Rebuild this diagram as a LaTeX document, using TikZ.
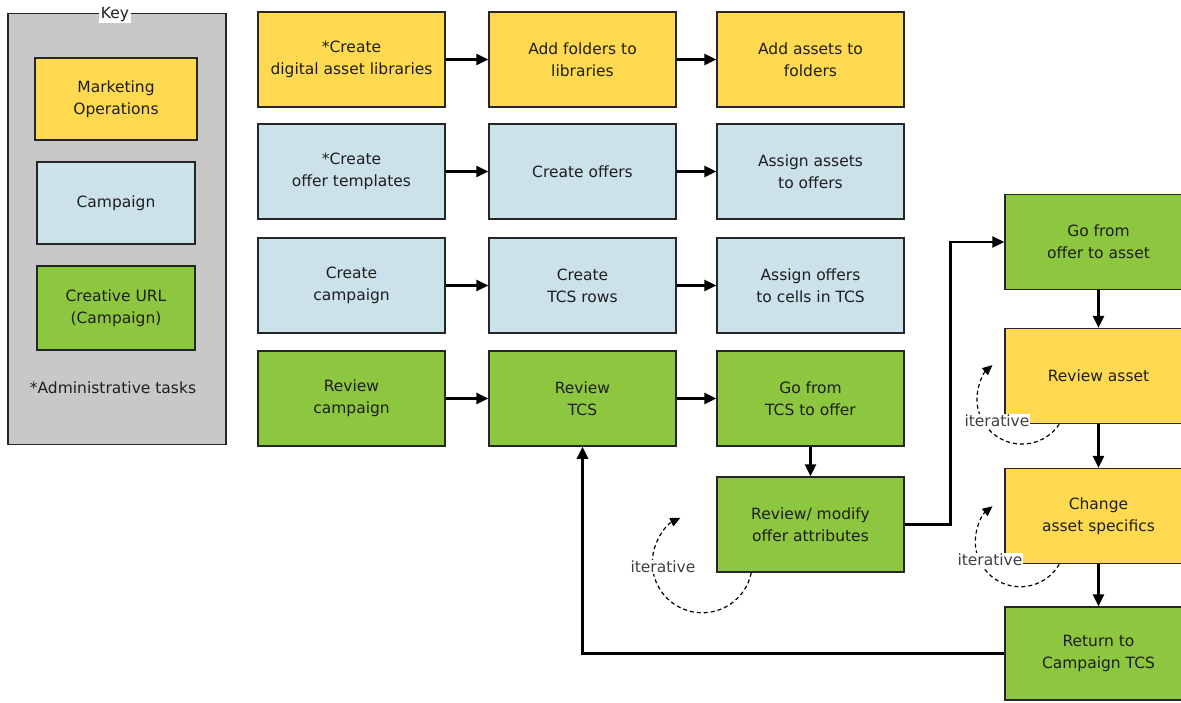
\documentclass[tikz,border=0pt]{standalone}
\usepackage{fontspec}
\setmainfont{DejaVu Sans}
\usetikzlibrary{arrows.meta,calc}
\definecolor{ymo}{HTML}{FFD94F}
\definecolor{bcamp}{HTML}{CCE2EB}
\definecolor{gcre}{HTML}{8DC63F}
\definecolor{keybg}{HTML}{C8C8C8}
\definecolor{txt}{HTML}{1E1E1E}
\begin{document}
\begin{tikzpicture}[x=1pt,y=-1pt,
  box/.style={draw=black!85, line width=1.5pt, minimum width=187pt, minimum height=95pt,
    align=center, text=txt, font=\fontsize{15.5}{22}\selectfont, inner sep=2pt},
  mo/.style={box, fill=ymo},
  cp/.style={box, fill=bcamp},
  cr/.style={box, fill=gcre},
  flow/.style={line width=2.6pt, -{Triangle[length=12pt,width=11pt]}},
  loopar/.style={line width=1.2pt, dash pattern=on 4pt off 3pt, -{Triangle[length=10pt,width=9pt]}},
  itl/.style={fill=white, inner sep=1pt, text=txt!85, font=\fontsize{15.5}{18}\selectfont},
  plain/.style={text=txt, font=\fontsize{15.5}{18}\selectfont}]
\useasboundingbox (0,0) rectangle (1181,702);
\clip (0,0) rectangle (1181,702);
\fill[white] (0,0) rectangle (1181,702);

% key
\node[draw=black!85, line width=1.5pt, fill=keybg, minimum width=218pt, minimum height=431pt] (key) at (117,229) {};
\node[fill=white, inner sep=2pt, plain] (keylbl) at (115,14) {Key};
\node[mo, minimum width=162pt, minimum height=82pt] (kmo) at (116,99) {Marketing\\Operations};
\node[cp, minimum width=158pt, minimum height=82pt] (kcp) at (116,203) {Campaign};
\node[cr, minimum width=158pt, minimum height=84pt] (kcr) at (116,308) {Creative URL\\(Campaign)};
\node[plain] (kadm) at (113,388) {*Administrative tasks};

% row 1
\node[mo] (cdal) at (351.5,59.5) {*Create\\digital asset libraries};
\node[mo] (afl) at (582.5,59.5) {Add folders to\\libraries};
\node[mo] (aaf) at (810.5,59.5) {Add assets to\\folders};
% row 2
\node[cp] (cot) at (351.5,171.5) {*Create\\offer templates};
\node[cp] (co) at (582.5,171.5) {Create offers};
\node[cp] (aao) at (810.5,171.5) {Assign assets\\to offers};
% row 3
\node[cp] (cc) at (351.5,285.5) {Create\\campaign};
\node[cp] (ctr) at (582.5,285.5) {Create\\TCS rows};
\node[cp] (aoc) at (810.5,285.5) {Assign offers\\to cells in TCS};
% row 4
\node[cr] (rc) at (351.5,398.5) {Review\\campaign};
\node[cr] (rt) at (582.5,398.5) {Review\\TCS};
\node[cr] (gto) at (810.5,398.5) {Go from\\TCS to offer};
\node[cr] (rm) at (810.5,524.5) {Review/ modify\\offer attributes};
% right column
\node[cr] (goa) at (1098.5,242) {Go from\\offer to asset};
\node[mo] (ra) at (1098.5,376) {Review asset};
\node[mo] (cas) at (1098.5,516) {Change\\asset specifics};
\node[cr, minimum height=93pt] (ret) at (1098.5,653.5) {Return to\\Campaign TCS};

% flows
\draw[flow] (cdal.east) -- (afl.west);
\draw[flow] (afl.east) -- (aaf.west);
\draw[flow] (cot.east) -- (co.west);
\draw[flow] (co.east) -- (aao.west);
\draw[flow] (cc.east) -- (ctr.west);
\draw[flow] (ctr.east) -- (aoc.west);
\draw[flow] (rc.east) -- (rt.west);
\draw[flow] (rt.east) -- (gto.west);
\draw[flow] (gto.south) -- (rm.north);
\draw[flow] (rm.east) -- ++(46,0) |- (goa.west);
\draw[flow] (goa.south) -- (ra.north);
\draw[flow] (ra.south) -- (cas.north);
\draw[flow] (cas.south) -- (ret.north);
\draw[flow] (ret.west) -| (rt.south);

% iterative loops
\draw[loopar] ($(rm.south west)+(35,0)$) arc[start angle=-11.5, end angle=-244, radius=50pt];
\draw[loopar] ($(ra.south west)+(55,0)$) arc[start angle=-34, end angle=-229, radius=45pt];
\draw[loopar] ($(cas.south west)+(55,0)$) arc[start angle=-30, end angle=-232, radius=45pt];
\node[itl] (it1) at (663,567) {iterative};
\node[itl] (it2) at (997,421) {iterative};
\node[itl] (it3) at (990,560) {iterative};
\end{tikzpicture}
\end{document}
